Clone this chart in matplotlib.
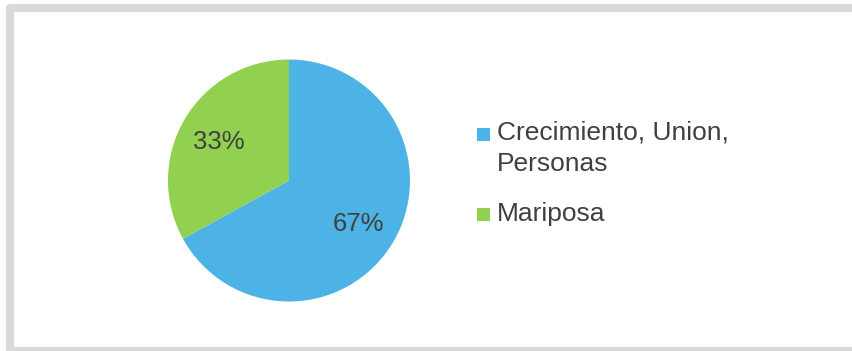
import matplotlib
matplotlib.use('Agg')
import matplotlib.pyplot as plt
from matplotlib.patches import Rectangle

# ── Data ──────────────────────────────────────────────────────────────────────
labels = ['Crecimiento, Union,\nPersonas', 'Mariposa']
shares = [67, 33]
colors = ['#4DB3E6', '#92D050']

TEXT_COLOR = '#404040'
FONT = ['Liberation Sans', 'DejaVu Sans']
W, H = 852, 351

plt.rcParams['font.family'] = FONT

fig = plt.figure(figsize=(W / 100, H / 100), dpi=100)
fig.patch.set_facecolor('white')

# Light grey chart-area border (runs off the right and bottom edges)
fig.add_artist(Rectangle((10 / W, 0.5 / H), 860 / W, (H - 8 - 0.5) / H,
                         transform=fig.transFigure, fill=False,
                         edgecolor='#D9D9D9', linewidth=5.9,
                         joinstyle='round', clip_on=False))

# Pie: centre (289, 180.5) px, radius 121 px
cx, cy, r = 289, 180.5, 121
ax = fig.add_axes([(cx - r) / W, (H - cy - r) / H, 2 * r / W, 2 * r / H])
wedges, texts, autotexts = ax.pie(
    shares, colors=colors, startangle=90, counterclock=False,
    autopct=lambda p: f'{p:.0f}%', pctdistance=0.67,
    wedgeprops={'linewidth': 0},
    textprops={'fontsize': 18.5, 'color': TEXT_COLOR})
for t in autotexts:
    t.set_va('center_baseline')
ax.set_xlim(-1, 1)
ax.set_ylim(-1, 1)
ax.set_aspect('equal')

# Legend drawn by hand so the marker sits on the first text line
legend_x = 477
marker_tops = [127.5, 208]      # px from top
last_baselines = [171, 221.5]   # baseline of each label's last line
for lab, col, top, base in zip(labels, colors, marker_tops, last_baselines):
    fig.add_artist(Rectangle((legend_x / W, (H - top - 13) / H), 13 / W, 13 / H,
                             transform=fig.transFigure, facecolor=col,
                             edgecolor='none'))
    fig.text((legend_x + 20) / W, (H - base) / H, lab, fontsize=19,
             color=TEXT_COLOR, va='baseline', ha='left', linespacing=1.38)

fig.savefig('out.png', dpi=100)
